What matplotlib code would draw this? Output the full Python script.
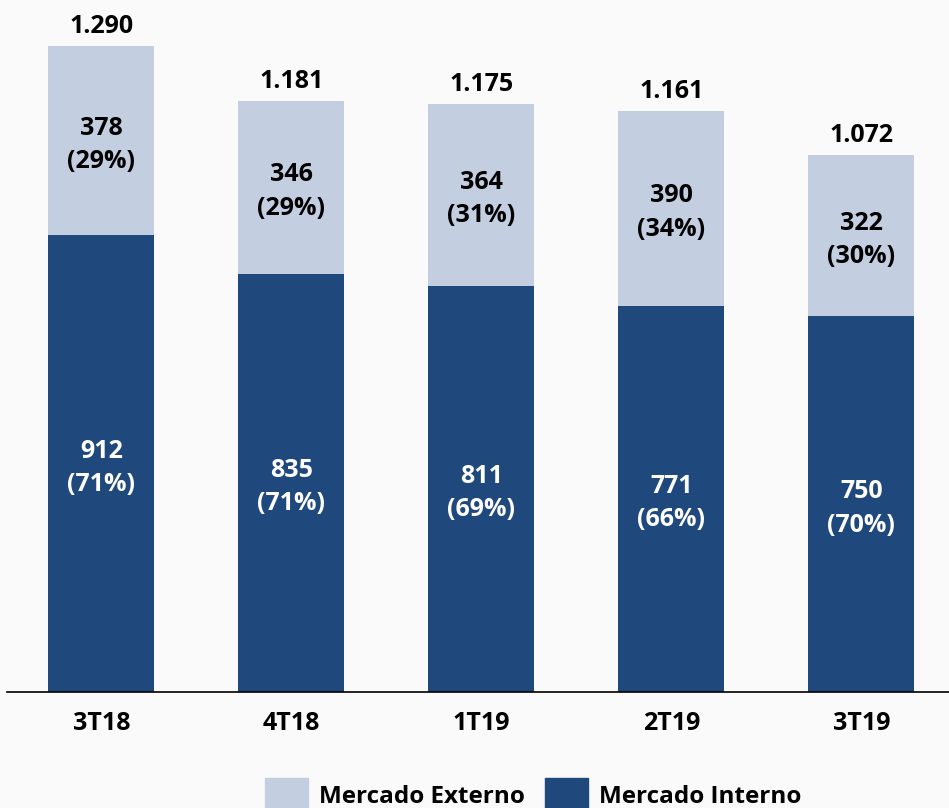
import matplotlib.pyplot as plt
from matplotlib.patches import Patch

# dados
trimestres = ["3T18", "4T18", "1T19", "2T19", "3T19"]
interno = [912, 835, 811, 771, 750]
externo = [378, 346, 364, 390, 322]
pct_interno = [71, 71, 69, 66, 70]
pct_externo = [29, 29, 31, 34, 30]
totais = ["1.290", "1.181", "1.175", "1.161", "1.072"]

cor_interno = "#1F497D"
cor_externo = "#C3CEE0"

plt.rcParams["font.family"] = ["Open Sans", "DejaVu Sans"]
plt.rcParams["font.weight"] = "bold"
fs = 18

fig = plt.figure(figsize=(9.49, 8.08), dpi=100, facecolor="#fafafa")
ax = fig.add_axes([7 / 949, 116 / 808, 942 / 949, 692 / 808])
ax.set_facecolor("none")

x = list(range(len(trimestres)))
w = 0.558
b1 = ax.bar(x, interno, w, color=cor_interno)
b2 = ax.bar(x, externo, w, bottom=interno, color=cor_externo)

# rótulos dentro das barras e totais
for i in x:
    ax.annotate(f"{interno[i]}\n({pct_interno[i]}%)", (i, interno[i] / 2),
                xytext=(0, -3), textcoords="offset points",
                ha="center", va="center", color="white", fontsize=fs,
                fontweight="bold", linespacing=1.45)
    ax.annotate(f"{externo[i]}\n({pct_externo[i]}%)", (i, interno[i] + externo[i] / 2),
                xytext=(0, -3), textcoords="offset points",
                ha="center", va="center", color="black", fontsize=fs,
                fontweight="bold", linespacing=1.45)
    ax.annotate(totais[i], (i, interno[i] + externo[i]), xytext=(0, 5),
                textcoords="offset points", ha="center", va="bottom",
                fontsize=fs, fontweight="bold")

ax.set_xlim(-0.497, 4.461)
ax.set_ylim(0, 1382)
ax.set_xticks(x)
ax.set_xticklabels(trimestres, fontsize=fs, fontweight="bold")
ax.tick_params(axis="x", length=0, pad=14)
ax.set_yticks([])
for s in ["top", "left", "right"]:
    ax.spines[s].set_visible(False)
ax.spines["bottom"].set_linewidth(1.2)

handles = [Patch(color=cor_externo, label="Mercado Externo"),
           Patch(color=cor_interno, label="Mercado Interno")]
fig.legend(handles=handles, loc="center", bbox_to_anchor=(533 / 949, 13 / 808),
           ncol=2, frameon=False, fontsize=17.5, handlelength=1.75, handleheight=1.75,
           handletextpad=0.45, columnspacing=0.85, borderpad=0)

fig.savefig("out.png", dpi=100, facecolor=fig.get_facecolor())
